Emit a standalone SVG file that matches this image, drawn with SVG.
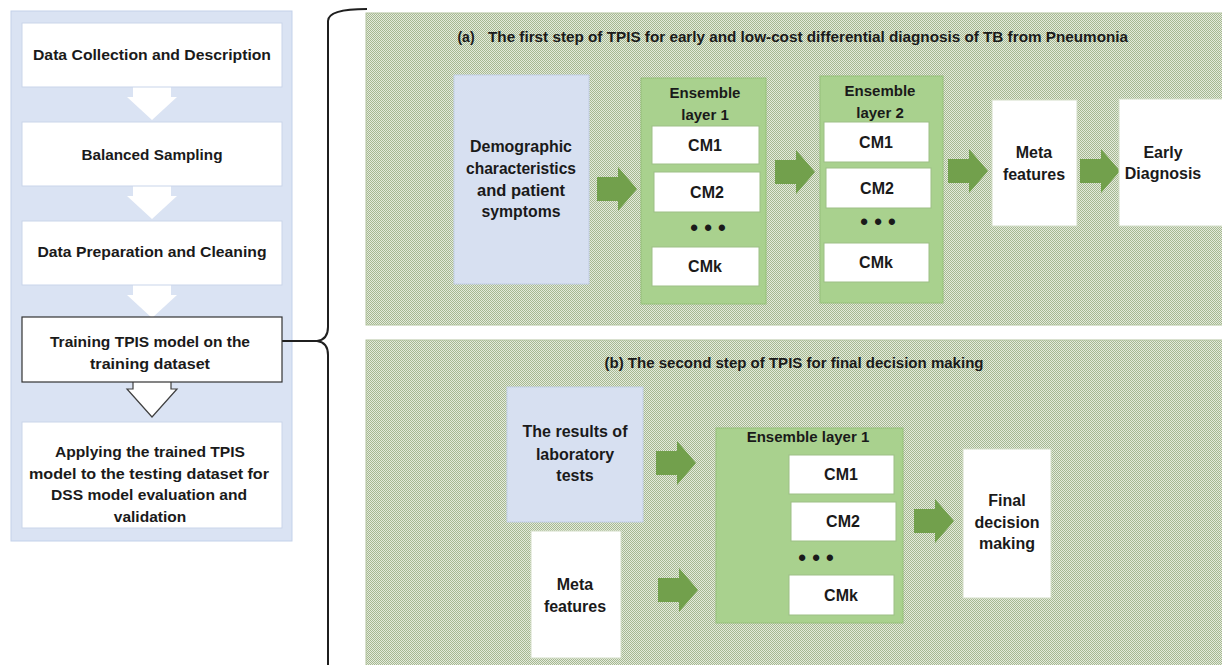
<svg xmlns="http://www.w3.org/2000/svg" width="1222" height="665" viewBox="0 0 1222 665">
<style>
text{font-family:"Liberation Sans",Arial,sans-serif;font-weight:bold;fill:#1a1a1a;text-anchor:middle}
.t14{font-size:14px}
.tl{font-size:15.5px}
.t15{font-size:15px}
.t16{font-size:16px}
.dots{font-size:22px}
.wbox{fill:#ffffff;stroke:#c9d5ea;stroke-width:1}
.panelL{fill:#dae3f3;stroke:#c3d1ea;stroke-width:1}
.gpanel{fill:url(#chk);stroke:#b3c49f;stroke-width:1}
.blue{fill:#d7e0f1;stroke:#c2cfe6;stroke-width:1}
.ens{fill:#a9d18e;stroke:#96c07b;stroke-width:1}
.cm{fill:#ffffff;stroke:#9dbf85;stroke-width:1}
.wnode{fill:#ffffff;stroke:#d3dec8;stroke-width:1}
.garrow{fill:#72a04c}
.warrow{fill:#ffffff}
.brace{fill:none;stroke:#1f1f1f;stroke-width:2}
</style>
<defs>
<pattern id="chk" patternUnits="userSpaceOnUse" width="2" height="2">
<rect width="2" height="2" fill="#e4ebdc"/>
<rect width="1" height="1" fill="#a6b892"/>
<rect x="1" y="1" width="1" height="1" fill="#a6b892"/>
</pattern>
<path id="ga" d="M0,-12 H21 V-22 L40,0 L21,22 V12 H0 Z"/>
<path id="da" d="M-19,0 H19 V10 H25 L0,33 L-25,10 H-19 Z"/>
</defs>

<rect width="1222" height="665" fill="#ffffff"/>

<g id="left-panel">
<rect class="panelL" x="11" y="11" width="281" height="530"/>
</g>
<g id="panel-a">
<rect class="gpanel" x="366" y="13" width="860" height="312"/>
<text class="t14" x="466" y="42">(a)</text>
<text class="t14" x="808" y="42" textLength="640" lengthAdjust="spacingAndGlyphs">The first step of TPIS for early and low-cost differential diagnosis of TB from Pneumonia</text>
</g>
<g id="panel-b">
<rect class="gpanel" x="366" y="340" width="860" height="330"/>
<text class="t14" x="794" y="368" textLength="379" lengthAdjust="spacingAndGlyphs">(b) The second step of TPIS for final decision making</text>
</g>

<g id="connectors">
<use href="#da" class="warrow" x="152" y="87"/>
<use href="#da" class="warrow" x="152" y="186"/>
<use href="#da" class="warrow" x="152" y="285"/>
<path d="M133,382 V389 H127 L152,417 L177,389 H171 V382" fill="#ffffff" stroke="#404040" stroke-width="1.2"/>
<path class="brace" d="M367,9 C343,9 328,12 328,21 L328,327 C328,335 325,340 317,341 C325,342 328,347 328,355 L328,668"/>
<path class="brace" d="M282,341 L317,341" stroke-width="1.5"/>
<use href="#ga" class="garrow" x="597" y="189"/>
<use href="#ga" class="garrow" x="775" y="172"/>
<use href="#ga" class="garrow" x="948" y="171"/>
<use href="#ga" class="garrow" x="1080" y="171"/>
<use href="#ga" class="garrow" x="656" y="463"/>
<use href="#ga" class="garrow" x="658" y="590"/>
<use href="#ga" class="garrow" x="914" y="521"/>
</g>

<g id="n-collect">
<rect class="wbox" x="22" y="23" width="260" height="64"/>
<text class="tl" x="152" y="60" textLength="238" lengthAdjust="spacingAndGlyphs">Data Collection and Description</text>
</g>
<g id="n-balanced">
<rect class="wbox" x="22" y="122" width="260" height="64"/>
<text class="tl" x="152" y="160" textLength="141" lengthAdjust="spacingAndGlyphs">Balanced Sampling</text>
</g>
<g id="n-prep">
<rect class="wbox" x="22" y="221" width="260" height="64"/>
<text class="tl" x="152" y="257" textLength="229" lengthAdjust="spacingAndGlyphs">Data Preparation and Cleaning</text>
</g>
<g id="n-training">
<rect x="22" y="317" width="260" height="65" fill="#ffffff" stroke="#333333" stroke-width="1.2"/>
<text class="tl" x="150" y="347" textLength="200" lengthAdjust="spacingAndGlyphs">Training TPIS model on the</text>
<text class="tl" x="150" y="369" textLength="120" lengthAdjust="spacingAndGlyphs">training dataset</text>
</g>
<g id="n-applying">
<rect class="wbox" x="22" y="422" width="260" height="106"/>
<text class="tl" x="150" y="457" textLength="190" lengthAdjust="spacingAndGlyphs">Applying the trained TPIS</text>
<text class="tl" x="149" y="479" textLength="240" lengthAdjust="spacingAndGlyphs">model to the testing dataset for</text>
<text class="tl" x="149" y="500" textLength="196" lengthAdjust="spacingAndGlyphs">DSS model evaluation and</text>
<text class="tl" x="150" y="522">validation</text>
</g>

<g id="n-demographic">
<rect class="blue" x="454" y="75" width="135" height="209"/>
<text class="t16" x="521" y="152" textLength="102" lengthAdjust="spacingAndGlyphs">Demographic</text>
<text class="t16" x="521" y="174" textLength="110" lengthAdjust="spacingAndGlyphs">characteristics</text>
<text class="t16" x="521" y="196" textLength="88" lengthAdjust="spacingAndGlyphs">and patient</text>
<text class="t16" x="521" y="217" textLength="79" lengthAdjust="spacingAndGlyphs">symptoms</text>
</g>
<g id="n-ens1a">
<rect class="ens" x="641" y="78" width="125" height="226"/>
<text class="t15" x="705" y="98">Ensemble</text>
<text class="t15" x="705" y="120">layer 1</text>
<rect class="cm" x="652" y="126" width="107" height="38"/>
<text class="t16" x="705" y="151">CM1</text>
<rect class="cm" x="654" y="172" width="106" height="40"/>
<text class="t16" x="707" y="198">CM2</text>
<text class="dots" x="708" y="235">• • •</text>
<rect class="cm" x="652" y="247" width="107" height="39"/>
<text class="t16" x="705" y="272">CMk</text>
</g>
<g id="n-ens2a">
<rect class="ens" x="820" y="76" width="123" height="227"/>
<text class="t15" x="880" y="96">Ensemble</text>
<text class="t15" x="880" y="118">layer 2</text>
<rect class="cm" x="824" y="122" width="105" height="40"/>
<text class="t16" x="876" y="148">CM1</text>
<rect class="cm" x="826" y="168" width="105" height="40"/>
<text class="t16" x="877" y="194">CM2</text>
<text class="dots" x="878" y="229">• • •</text>
<rect class="cm" x="824" y="243" width="105" height="39"/>
<text class="t16" x="876" y="268">CMk</text>
</g>
<g id="n-meta-a">
<rect class="wnode" x="992" y="100" width="85" height="126"/>
<text class="t16" x="1034" y="158">Meta</text>
<text class="t16" x="1034" y="180">features</text>
</g>
<g id="n-early">
<rect class="wnode" x="1119" y="99" width="110" height="127"/>
<text class="t16" x="1163" y="158">Early</text>
<text class="t16" x="1163" y="179">Diagnosis</text>
</g>

<g id="n-lab">
<rect class="blue" x="507" y="387" width="136" height="135"/>
<text class="t16" x="575" y="437">The results of</text>
<text class="t16" x="575" y="460">laboratory</text>
<text class="t16" x="575" y="481">tests</text>
</g>
<g id="n-meta-b">
<rect class="wnode" x="531" y="531" width="90" height="127"/>
<text class="t16" x="575" y="590">Meta</text>
<text class="t16" x="575" y="612">features</text>
</g>
<g id="n-ens1b">
<rect class="ens" x="716" y="428" width="187" height="195"/>
<text class="t15" x="808" y="442">Ensemble layer 1</text>
<rect class="cm" x="789" y="455" width="105" height="39"/>
<text class="t16" x="841" y="480">CM1</text>
<rect class="cm" x="791" y="502" width="105" height="39"/>
<text class="t16" x="843" y="527">CM2</text>
<text class="dots" x="816" y="565">• • •</text>
<rect class="cm" x="789" y="575" width="105" height="40"/>
<text class="t16" x="841" y="601">CMk</text>
</g>
<g id="n-final">
<rect class="wnode" x="963" y="449" width="88" height="149"/>
<text class="t16" x="1007" y="506">Final</text>
<text class="t16" x="1007" y="528">decision</text>
<text class="t16" x="1007" y="549">making</text>
</g>
</svg>
